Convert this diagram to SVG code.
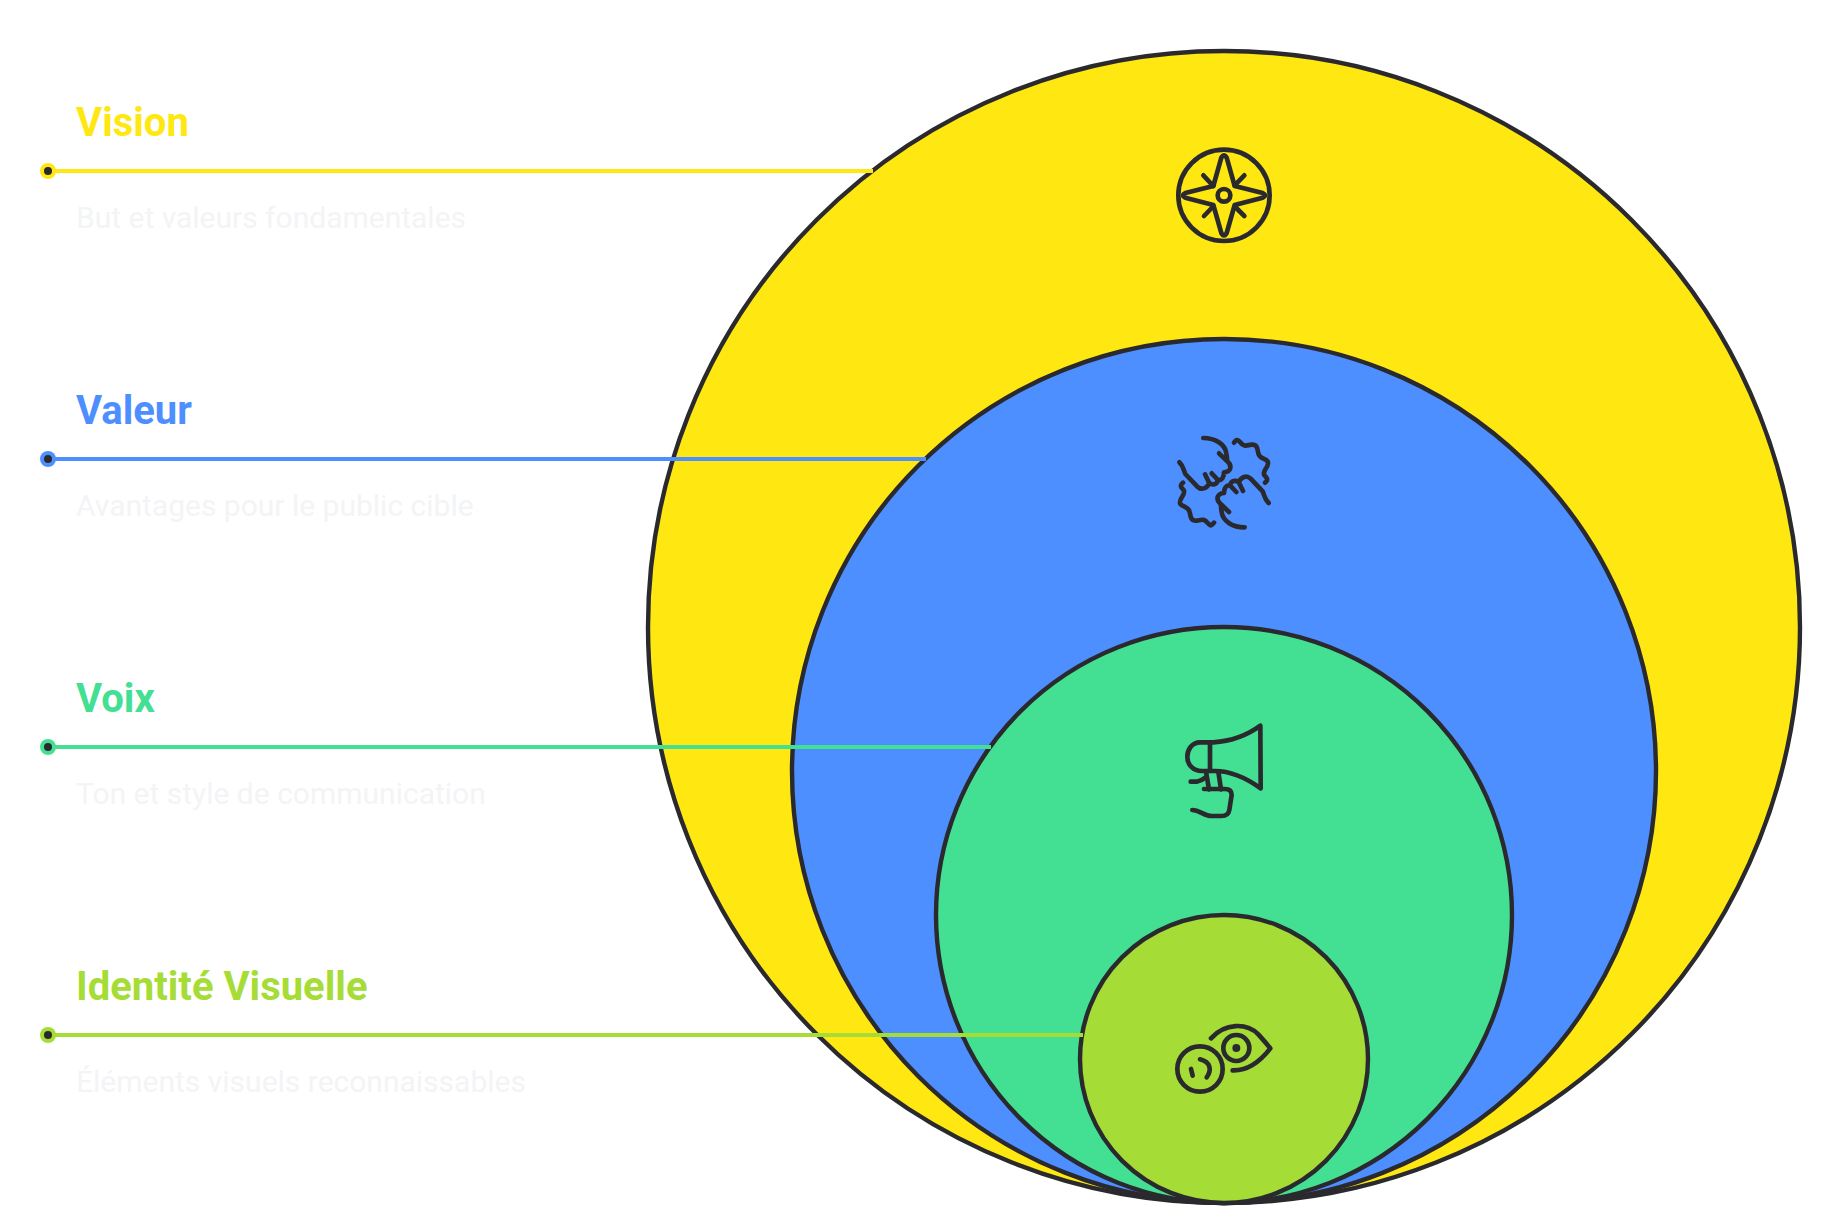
<svg xmlns="http://www.w3.org/2000/svg" width="1848" height="1210" viewBox="0 0 1848 1210">
<style>
.disc{stroke:#2a2a2e;stroke-width:4.4}
.ic{fill:none;stroke:#2a2a2e;stroke-width:14;stroke-linecap:round;stroke-linejoin:round}
.t{font-family:Roboto,"Liberation Sans",sans-serif;font-weight:700;font-size:40px}
.d{font-family:Roboto,"Liberation Sans",sans-serif;font-weight:400;font-size:30px;fill:#f3f4f6}
.l{stroke-width:4;fill:none}
.core{fill:#2a2a2e}
</style>
<rect width="1848" height="1210" fill="#fff"/>
<g id="node-vision">
<circle class="disc" cx="1224" cy="627" r="576" fill="#ffe711"/>
<g class="ic" transform="translate(1150 131) scale(.33333)">
<circle cx="222" cy="193" r="137"/>
<circle cx="222" cy="193" r="19"/>
<path d="M214 80 L190 165 L106 186 Q92 193 106 200 L190 222 L214 306 Q222 320 230 306 L254 222 L338 200 Q352 193 338 186 L254 165 L230 80 Q222 66 214 80Z"/>
<path d="M160 133 L190 165M283 133 L254 163M162 255 L188 228M283 255 L256 228"/>
</g>
<text class="t" x="76" y="136" fill="#ffe711">Vision</text>
<text class="d" x="76" y="228">But et valeurs fondamentales</text>
</g>
<g id="node-valeur">
<circle class="disc" cx="1224" cy="771" r="432" fill="#4e8fff"/>
<g class="ic" transform="translate(1150 420) scale(.33333)">
<path d="M160 54 C195 54 226 72 229 100 C231 112 231 118 232 124 C248 138 243 155 222 157 C222 172 215 182 204 180 L185 160M204 180 C200 195 188 196 178 190 L165 163M178 190 C170 205 155 212 142 200 L106 162 C100 150 102 140 88 127M207 100 L232 124"/>
<path d="M252 68 C258 60 262 56 270 66 C282 82 290 76 304 74 C322 72 322 86 325 100 C328 116 344 114 353 124 C360 138 338 150 342 164 C348 172 358 178 345 188"/>
<g transform="rotate(180 222 188)">
<path d="M160 54 C195 54 226 72 229 100 C231 112 231 118 232 124 C248 138 243 155 222 157 C222 172 215 182 204 180 L185 160M204 180 C200 195 188 196 178 190 L165 163M178 190 C170 205 155 212 142 200 L106 162 C100 150 102 140 88 127M207 100 L232 124"/>
<path d="M252 68 C258 60 262 56 270 66 C282 82 290 76 304 74 C322 72 322 86 325 100 C328 116 344 114 353 124 C360 138 338 150 342 164 C348 172 358 178 345 188"/>
</g>
</g>
<text class="t" x="76" y="424" fill="#4e8fff">Valeur</text>
<text class="d" x="76" y="516">Avantages pour le public cible</text>
</g>
<g id="node-voix">
<circle class="disc" cx="1224" cy="915" r="288" fill="#43e093"/>
<g class="ic" transform="translate(1150 710) scale(.33333)">
<path d="M331 47 Q270 92 190 97 H150 C125 97 112 120 112 140 C112 165 130 183 155 183 H195 C240 183 290 205 332 235 Z"/>
<path d="M180 97 V183M168 185 L177 238M205 185 L213 238"/>
<path d="M162 237 H225 Q245 237 245 255 L238 300 Q235 318 215 318 H185 C160 318 150 300 127 300"/>
<path d="M122 215 H140 Q155 212 165 203"/>
</g>
<text class="t" x="76" y="712" fill="#43e093">Voix</text>
<text class="d" x="76" y="804">Ton et style de communication</text>
</g>
<g id="node-identite">
<circle class="disc" cx="1224" cy="1059" r="144" fill="#a6dc36"/>
<g class="ic" transform="translate(1150 1000) scale(.33333)">
<circle cx="150" cy="207" r="68"/>
<path d="M123 207 L128 227M150 178 C182 186 186 210 170 232"/>
<path d="M183 115 C225 68 290 68 325 103 Q345 125 361 145 C340 172 300 213 248 211"/>
<circle cx="259" cy="144" r="39"/>
<circle cx="259" cy="144" r="12" fill="#2a2a2e" stroke="none"/>
</g>
<text class="t" x="76" y="1000" fill="#a6dc36">Identité Visuelle</text>
<text class="d" x="76" y="1092">Éléments visuels reconnaissables</text>
</g>
<g id="connectors">
<line class="l" x1="48" y1="171" x2="873" y2="171" stroke="#ffe711"/>
<circle cx="48" cy="171" r="8" fill="#ffe711"/><circle class="core" cx="48" cy="171" r="4"/>
<line class="l" x1="48" y1="459" x2="926" y2="459" stroke="#4e8fff"/>
<circle cx="48" cy="459" r="8" fill="#4e8fff"/><circle class="core" cx="48" cy="459" r="4"/>
<line class="l" x1="48" y1="747" x2="991" y2="747" stroke="#43e093"/>
<circle cx="48" cy="747" r="8" fill="#43e093"/><circle class="core" cx="48" cy="747" r="4"/>
<line class="l" x1="48" y1="1035" x2="1083" y2="1035" stroke="#a6dc36"/>
<circle cx="48" cy="1035" r="8" fill="#a6dc36"/><circle class="core" cx="48" cy="1035" r="4"/>
</g>
</svg>
